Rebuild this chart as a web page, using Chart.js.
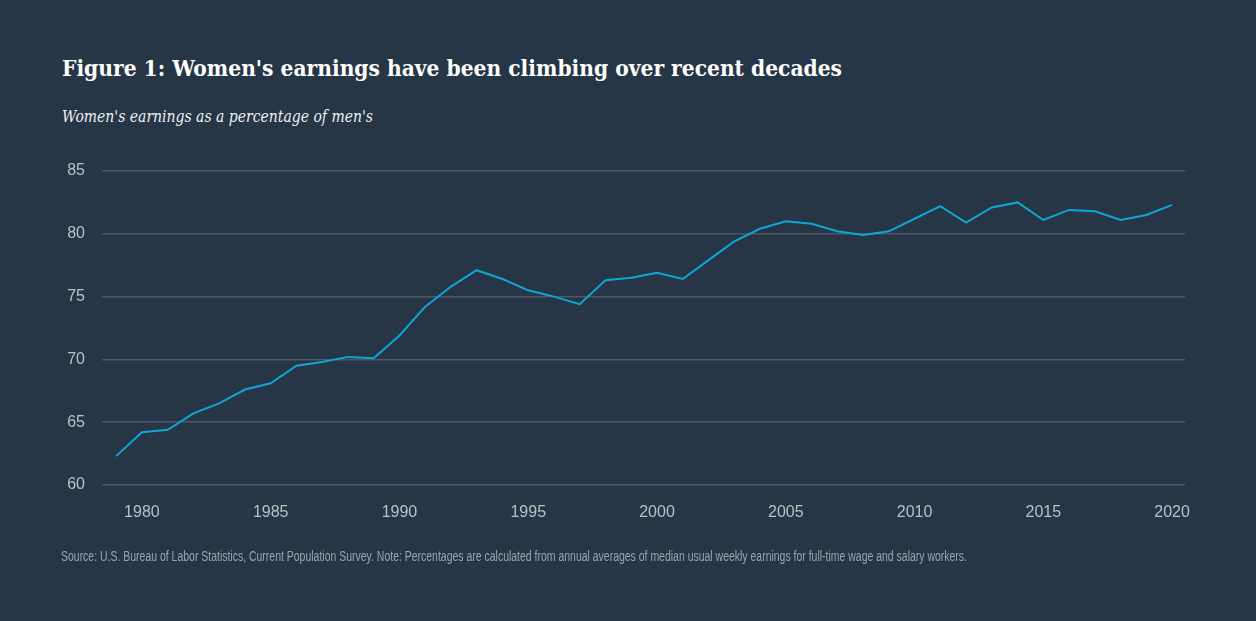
<!DOCTYPE html>
<html>
<head>
<meta charset="utf-8">
<script src="https://cdn.jsdelivr.net/npm/chart.js@4.4.0/dist/chart.umd.min.js"></script>
<style>
  html, body { margin: 0; padding: 0; background: #263646; }
  body { width: 1256px; height: 621px; position: relative; overflow: hidden; }
  #title { position: absolute; left: 62px; top: 54px; font-family: "DejaVu Serif", Georgia, serif; font-weight: bold; font-size: 23px; color: #ffffff; white-space: nowrap; transform-origin: 0 0; }
  #subtitle { position: absolute; left: 62px; top: 107px; font-family: "DejaVu Serif", Georgia, serif; font-style: italic; font-size: 16px; color: #eef0f2; white-space: nowrap; transform-origin: 0 0; }
  #source { position: absolute; left: 61px; top: 548px; font-family: "Liberation Sans Narrow", "Liberation Sans", Arial, sans-serif; font-size: 14px; color: #9aa4ad; white-space: nowrap; transform-origin: 0 0; }
  #wrap { position: absolute; left: 0; top: 0; width: 1256px; height: 621px; }
</style>
</head>
<body>
<div id="title">Figure 1: Women's earnings have been climbing over recent decades</div>
<div id="subtitle">Women's earnings as a percentage of men's</div>
<div id="wrap"><canvas id="c"></canvas></div>
<div id="source">Source: U.S. Bureau of Labor Statistics, Current Population Survey. Note: Percentages are calculated from annual averages of median usual weekly earnings for full-time wage and salary workers.</div>
<script>
const years = [1979,1980,1981,1982,1983,1984,1985,1986,1987,1988,1989,1990,1991,1992,1993,1994,1995,1996,1997,1998,1999,2000,2001,2002,2003,2004,2005,2006,2007,2008,2009,2010,2011,2012,2013,2014,2015,2016,2017,2018,2019,2020];
const ratio = [62.3,64.2,64.4,65.7,66.5,67.6,68.1,69.5,69.8,70.2,70.1,71.9,74.2,75.8,77.1,76.4,75.5,75.0,74.4,76.3,76.5,76.9,76.4,77.9,79.4,80.4,81.0,80.8,80.2,79.9,80.2,81.2,82.2,80.9,82.1,82.5,81.1,81.9,81.8,81.1,81.5,82.3];
const xTicks = [1980,1985,1990,1995,2000,2005,2010,2015,2020];
const yTicks = [60,65,70,75,80,85];

function fitWidth(id, target) {
  const el = document.getElementById(id);
  const w = el.getBoundingClientRect().width;
  el.style.transform = 'scaleX(' + (target / w) + ')';
}
fitWidth('title', 780);
fitWidth('subtitle', 311);
fitWidth('source', 906);

new Chart(document.getElementById('c'), {
  type: 'line',
  data: {
    labels: years,
    datasets: [{
      data: ratio,
      borderColor: '#10a5d6',
      borderWidth: 2,
      pointRadius: 0,
      tension: 0,
      fill: false
    }]
  },
  options: {
    responsive: true,
    maintainAspectRatio: false,
    animation: false,
    layout: { padding: { left: 0, right: 71, top: 171, bottom: 96 } },
    plugins: { legend: { display: false }, tooltip: { enabled: false }, title: { display: false } },
    scales: {
      x: {
        type: 'linear',
        min: 1978.45,
        max: 2020.5,
        afterBuildTicks: (s) => { s.ticks = xTicks.map(v => ({ value: v })); },
        afterFit: (s) => { s.height = 40; },
        grid: { display: false, drawTicks: false },
        border: { display: false },
        ticks: { color: '#b9c0c6', font: { family: '"Liberation Sans", Arial, sans-serif', size: 16 }, padding: 18, callback: (v) => String(v), maxRotation: 0 }
      },
      y: {
        min: 60,
        max: 85,
        afterBuildTicks: (s) => { s.ticks = yTicks.map(v => ({ value: v })); },
        afterFit: (s) => { s.width = 102; },
        grid: { color: '#485866', lineWidth: 1.5, drawTicks: false },
        border: { display: false },
        ticks: { color: '#b9c0c6', font: { family: '"Liberation Sans", Arial, sans-serif', size: 16 }, padding: 17 }
      }
    }
  }
});
</script>
</body>
</html>
